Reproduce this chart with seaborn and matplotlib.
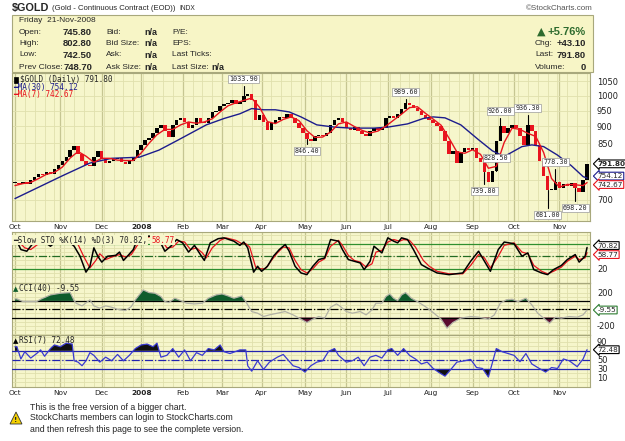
import numpy as np
import seaborn as sns
import matplotlib
matplotlib.use("Agg")
import matplotlib.pyplot as plt
from matplotlib.patches import Rectangle, Polygon
from matplotlib.ticker import FixedLocator, FuncFormatter, NullFormatter

sns.set_style("white")
plt.rcParams["font.family"] = ["DejaVu Sans"]

# x axis = trading day index: 0 = 1-Oct-2007 ... 290 = 21-Nov-2008
month_days = [0, 23, 44, 64, 85, 105, 125, 147, 168, 189, 211, 232, 253, 276]
month_names = ["Oct", "Nov", "Dec", "2008", "Feb", "Mar", "Apr", "May",
               "Jun", "Jul", "Aug", "Sep", "Oct", "Nov"]

# closing prices, every 2nd trading day
close_days = list(range(0, 291, 2))
closes = [741, 738, 745, 740, 748, 758, 765, 762, 770, 765, 778, 790,
          800, 812, 830, 842, 818, 800, 790, 785, 810, 828, 805,
          793, 800, 805, 808, 798, 792, 800, 812, 830,
          845, 858, 865, 880, 895, 905, 885, 868, 905, 920, 925,
          915, 895, 905, 925, 915, 910, 925, 945, 950, 965,
          972, 975, 985, 972, 980, 998, 1005, 985, 920, 935,
          915, 888, 912, 920, 930, 925, 940, 925, 910, 895, 880,
          862, 855, 870, 875, 870, 880, 905, 920, 925, 915,
          895, 890, 898, 885, 878, 872, 885, 895, 890, 895, 925,
          932, 928, 940, 955, 975, 968, 958, 950, 935, 925, 920,
          912, 900, 885, 855, 820, 828, 795, 825, 835, 830,
          835, 808, 798, 770, 745, 772, 855, 900, 880, 895, 905,
          895, 870, 845, 905, 885, 845, 800, 760, 725, 725, 745,
          730, 740, 735, 742, 730, 718, 748, 792]

ma30_days = [0, 24, 38, 49, 63, 73, 82, 97, 106, 114, 120, 126, 132, 139, 145, 153, 162, 170,
             182, 189, 199, 207, 212, 218, 226, 235, 242, 248, 257, 262, 268, 275, 282, 288, 290]
ma30 = [703, 760, 794, 807, 810, 830, 857, 905, 925, 940, 957, 953, 953, 946, 930, 905, 898, 895,
        895, 898, 908, 925, 930, 927, 905, 860, 828, 812, 840, 845, 840, 816, 787, 758, 754.12]

ma7_days = list(range(0, 289, 4)) + [290]
ma7 = [735, 740, 743, 753, 764, 769, 783, 808, 826, 813, 796, 807, 807, 802, 801, 801,
       822, 850, 875, 891, 891, 905, 914, 910, 914, 924, 946, 966, 976, 984, 992, 961,
       915, 909, 922, 930, 918, 887, 867, 868, 883, 908, 914, 900, 888, 880, 886, 901,
       920, 939, 960, 963, 942, 923, 904, 865, 825, 821, 831, 818, 780, 785, 852, 895,
       891, 879, 870, 823, 753, 731, 738, 737, 735, 742.67]

# labelled highs / lows
ext_days = [117, 149, 199, 246, 260, 244, 239, 274, 270, 285]
ext_prices = [1033.90, 846.40, 989.60, 926.00, 936.30, 828.50, 739.80, 778.30, 681.00, 698.20]
ext_high = [True, False, True, True, True, False, False, True, False, False]

sto_days = [0, 1, 3, 6, 10, 15, 18, 21, 25, 30, 33, 36, 38, 40, 42, 44, 47, 51, 53, 55,
            57, 60, 62, 65, 70, 73, 76, 79, 82, 85, 88, 91, 94, 96, 99, 103, 106, 111, 114, 116,
            118, 121, 123, 125, 128, 131, 134, 137, 139, 142, 145, 148, 151, 154, 157, 160, 164, 166, 169, 172,
            175, 177, 180, 182, 184, 186, 189, 192, 194, 196, 199, 202, 206, 209, 214, 220, 227, 231, 235, 238,
            241, 245, 248, 253, 257, 260, 263, 267, 270, 273, 277, 280, 284, 286, 289, 290]
sto_k = [86, 86, 66, 62, 86, 84, 74, 86, 94, 74, 50, 12, 26, 70, 50, 36, 50, 52, 60, 40,
         50, 66, 90, 98, 98, 90, 62, 74, 90, 82, 60, 76, 54, 40, 82, 92, 94, 86, 76, 84,
         70, 12, 26, 14, 26, 50, 66, 78, 62, 26, 10, 6, 26, 42, 46, 90, 86, 66, 42, 38,
         34, 18, 38, 74, 66, 58, 94, 86, 82, 94, 90, 66, 30, 22, 10, 6, 10, 38, 62, 38,
         14, 66, 84, 80, 50, 58, 18, 10, 6, 18, 28, 42, 54, 36, 50, 70.82]

stod_days = [0, 2, 5, 8, 12, 16, 20, 23, 27, 32, 35, 38, 41, 43, 46, 49, 53, 56, 59, 62,
             65, 70, 74, 77, 80, 83, 86, 89, 92, 95, 97, 100, 104, 107, 112, 115, 117, 119, 122, 124,
             127, 130, 133, 136, 139, 142, 145, 148, 151, 154, 157, 160, 164, 166, 169, 172, 175, 178, 181, 183,
             186, 189, 192, 195, 197, 200, 203, 207, 210, 214, 220, 227, 231, 235, 238, 241, 245, 248, 253, 257,
             260, 263, 267, 270, 273, 277, 280, 284, 286, 289, 290]
sto_d = [84, 84, 70, 66, 80, 84, 80, 86, 92, 78, 48, 22, 40, 56, 42, 48, 54, 48, 54, 76,
         94, 98, 92, 70, 72, 86, 84, 66, 70, 58, 46, 70, 88, 94, 88, 80, 80, 72, 24, 20,
         20, 40, 58, 72, 70, 40, 18, 10, 20, 36, 44, 74, 88, 76, 52, 40, 36, 24, 32, 60,
         64, 84, 90, 86, 90, 88, 72, 40, 26, 14, 8, 8, 28, 54, 46, 22, 50, 76, 82, 60,
         56, 28, 14, 8, 14, 24, 38, 50, 42, 46, 58.77]

cci_days = [0, 1, 4, 11, 13, 18, 23, 28, 30, 31, 34, 38, 40, 43, 46, 49, 52, 56, 59, 61,
            65, 68, 71, 74, 76, 78, 81, 84, 87, 91, 95, 98, 102, 105, 108, 111, 115, 117, 120, 123,
            126, 129, 133, 137, 141, 145, 148, 151, 154, 157, 160, 163, 165, 168, 171, 175, 178, 181, 183, 186,
            188, 190, 192, 194, 196, 198, 201, 204, 208, 212, 216, 219, 222, 226, 231, 235, 240, 243, 246, 249,
            252, 255, 259, 262, 265, 268, 271, 274, 277, 281, 285, 288, 290]
cci = [124, 124, 92, 92, 120, 172, 192, 200, 104, 72, 40, 112, 40, 12, 40, 24, 0, -16, 32, 112,
       232, 200, 192, 152, 92, 80, 132, 104, 72, 64, 72, 132, 172, 184, 160, 132, 160, 92, -28, -48,
       -88, -68, -48, -28, -68, -120, -160, -120, -88, -108, 24, 64, 32, -28, -48, -28, -68, -8, 72, 72,
       152, 184, 132, 104, 172, 200, 132, 92, 32, -40, -120, -228, -160, -108, -88, -96, -120, -68, 72, 112,
       120, 92, 132, 52, -48, -108, -168, -96, -108, -88, -96, -68, -9.55]

rsi_days = [0, 1, 3, 5, 8, 11, 13, 15, 18, 20, 23, 26, 29, 30, 32, 34, 36, 38, 40, 43,
            46, 49, 52, 55, 58, 61, 64, 67, 70, 72, 74, 77, 80, 83, 86, 89, 92, 95, 98, 101,
            104, 106, 109, 114, 117, 118, 120, 123, 126, 129, 133, 136, 138, 141, 144, 147, 150, 153, 156, 159,
            162, 164, 168, 171, 174, 177, 180, 183, 186, 189, 191, 194, 197, 200, 203, 206, 209, 212, 215, 218,
            221, 224, 228, 231, 234, 237, 240, 244, 247, 250, 253, 256, 259, 262, 265, 269, 272, 275, 278, 281,
            285, 288, 290]
rsi = [79, 79, 52, 68, 54, 64, 72, 58, 75, 83, 79, 87, 85, 48, 45, 37, 48, 66, 60, 45,
       56, 48, 62, 48, 60, 75, 83, 85, 79, 87, 56, 60, 75, 56, 72, 48, 66, 60, 75, 72,
       83, 68, 64, 72, 72, 37, 25, 48, 29, 45, 56, 62, 52, 37, 33, 23, 37, 45, 48, 69,
       75, 60, 45, 48, 56, 37, 56, 60, 54, 72, 75, 60, 75, 60, 52, 41, 45, 31, 22, 14,
       29, 45, 48, 51, 33, 31, 12, 75, 68, 64, 60, 46, 64, 41, 33, 23, 33, 31, 52, 48,
       35, 52, 72.48]

BG = "#f6f6cb"
INFO_BG = "#f7f5c6"
GRID_MIN = "#e0e0ad"
GRID_MAJ = "#c6c692"
EDGE = "#a8a87c"
RED = "#e8141e"
NAVY = "#1c1c8c"

fig = plt.figure(figsize=(6.25, 4.41), dpi=100)
fig.patch.set_facecolor("white")
r = fig.canvas.get_renderer()


def box(x0, y0, x1, y1):
    return [x0 / 625, 1 - y1 / 441, (x1 - x0) / 625, (y1 - y0) / 441]


def ftext(x, y, s, **kw):
    kw.setdefault("va", "center")
    return fig.text(x / 625, 1 - y / 441, s, **kw)


def after(t, gap, y, s, **kw):
    # place a text right after another one
    x = t.get_window_extent(r).x1 + gap
    return ftext(x, y, s, **kw)


def style_panel(ax, ylim, yticks, hgrid):
    ax.set_facecolor(BG)
    ax.set_xlim(-1.5, 291.5)
    ax.set_ylim(*ylim)
    ax.xaxis.set_major_locator(FixedLocator(month_days))
    ax.xaxis.set_minor_locator(FixedLocator(list(range(0, 291, 5))))
    ax.yaxis.set_major_locator(FixedLocator(yticks))
    ax.yaxis.set_minor_locator(FixedLocator(hgrid))
    ax.yaxis.set_minor_formatter(NullFormatter())
    ax.yaxis.set_major_formatter(FuncFormatter(lambda v, p: f"{v:.0f}"))
    ax.grid(which="minor", color=GRID_MIN, lw=0.6, zorder=0)
    ax.grid(which="major", axis="y", color=GRID_MIN, lw=0.6, zorder=0)
    ax.grid(which="major", axis="x", color=GRID_MAJ, lw=0.9, zorder=0)
    ax.set_axisbelow(True)
    ax.yaxis.tick_right()
    ax.tick_params(which="both", length=0)
    ax.tick_params(axis="y", labelsize=6, pad=5, colors="#222222")
    ax.tick_params(axis="x", labelbottom=False)
    for s in ax.spines.values():
        s.set_color(EDGE)
        s.set_linewidth(0.8)


def tag(ax, v, text, ec, bold=False, dy=0):
    ax.annotate(text, xy=(1.013, v), xycoords=ax.get_yaxis_transform(),
                xytext=(0, dy), textcoords="offset pixels", ha="left", va="center",
                fontsize=5.2, fontweight="bold" if bold else "normal", zorder=10,
                annotation_clip=False,
                bbox=dict(boxstyle="larrow,pad=0.12", fc="white", ec=ec, lw=0.8))


# ---------------- header ----------------
t = ftext(12, 8, "$GOLD", fontsize=7.8, fontweight="bold", family="Liberation Sans")
t = after(t, 3, 8, "(Gold - Continuous Contract (EOD))", fontsize=5.6, family="Liberation Sans")
after(t, 3, 8, "INDX", fontsize=4.8, family="Liberation Sans")
ftext(593, 8, "\u00a9StockCharts.com", fontsize=5.8, ha="right", color="#555555", family="Liberation Sans")

fig.add_artist(Rectangle((12 / 625, 1 - 72 / 441), 581 / 625, 57 / 441, transform=fig.transFigure,
                         fc=INFO_BG, ec=EDGE, lw=0.8, zorder=0))
ftext(19, 21, "Friday  21-Nov-2008", fontsize=6, family="Liberation Sans")
row_y = [32.7, 43.3, 55, 67.7]
info_c1 = ["Open:", "High:", "Low:", "Prev Close:"]
info_v1 = ["745.80", "802.80", "742.50", "748.70"]
info_c2 = ["Bid:", "Bid Size:", "Ask:", "Ask Size:"]
info_c3 = ["P/E:", "EPS:", "Last Ticks:", "Last Size:"]
for y, a, v, b, c in zip(row_y, info_c1, info_v1, info_c2, info_c3):
    ftext(19, y, a, fontsize=6, family="Liberation Sans")
    ftext(92, y, v, fontsize=6.8, fontweight="bold", ha="right", family="Liberation Sans")
    ftext(106, y, b, fontsize=6, family="Liberation Sans")
    ftext(144, y, "n/a", fontsize=6.5, fontweight="bold", family="Liberation Sans")
    ftext(172, y, c, fontsize=6, family="Liberation Sans")
ftext(211, 67.7, "n/a", fontsize=6.5, fontweight="bold", family="Liberation Sans")

ftext(541, 32, "\u25b2", fontsize=8, color="#2e6b2e", ha="center")
ftext(586, 32, "+5.76%", fontsize=8, fontweight="bold", color="#2e6b2e", ha="right", family="Liberation Sans")
for y, a, v in zip(row_y[1:], ["Chg:", "Last:", "Volume:"], ["+43.10", "791.80", "0"]):
    ftext(535, y, a, fontsize=6, family="Liberation Sans")
    ftext(586, y, v, fontsize=6.8, fontweight="bold", ha="right", family="Liberation Sans")

# ---------------- price panel ----------------
ax = fig.add_axes(box(12, 73, 590, 221))
ax.set_yscale("log")
# 750 / 800 are hidden behind the value tags in the original
style_panel(ax, (651, 1081), [700, 850, 900, 950, 1000, 1050],
            [650, 700, 750, 800, 850, 900, 950, 1000, 1050])

c = np.array(closes, dtype=float)
o = np.r_[c[0], c[:-1]]
lo = np.minimum(o, c)
hi = np.maximum(o, c)
col = np.where(c >= o, "black", RED)
ax.bar(close_days, np.maximum(hi - lo, 2.0), bottom=lo, width=1.75, color=col, lw=0, zorder=3)

sns.lineplot(x=ma30_days, y=ma30, color=NAVY, lw=1.0, ax=ax, zorder=4)
sns.lineplot(x=ma7_days, y=ma7, color=RED, lw=1.0, ax=ax, zorder=4)

cd_arr = np.array(close_days)
for d, p, up in zip(ext_days, ext_prices, ext_high):
    i = int(np.argmin(np.abs(cd_arr - d)))
    edge = hi[i] if up else lo[i]
    ax.plot([close_days[i], close_days[i]], [edge, p], color="black", lw=0.8, zorder=3)
    ax.annotate(f"{p:.2f}", xy=(close_days[i], p), xytext=(0, 4 if up else -4),
                textcoords="offset pixels", ha="center", va="bottom" if up else "top",
                fontsize=4.9, family="DejaVu Sans Mono", zorder=6,
                bbox=dict(boxstyle="square,pad=0.15", fc="white", ec="#9a9a9a", lw=0.5))

tag(ax, 791.80, "791.80", "black", bold=True)
tag(ax, 754.12, "754.12", NAVY, dy=2)
tag(ax, 742.67, "742.67", RED, dy=-2)
ax.set_xlabel("")
ax.set_ylabel("")

fig.add_artist(Rectangle((14 / 625, 1 - 83 / 441), 4 / 625, 6 / 441, transform=fig.transFigure,
                         fc="black", ec="black", lw=0.5))
ftext(20, 79.5, "$GOLD (Daily) 791.80", fontsize=5.6, family="DejaVu Sans Mono")
ftext(13, 87.2, "\u2501MA(30) 754.12", fontsize=5.6, family="DejaVu Sans Mono", color=NAVY)
ftext(13, 94.8, "\u2501MA(7) 742.67", fontsize=5.6, family="DejaVu Sans Mono", color=RED)

# ---------------- slow stochastics ----------------
ax2 = fig.add_axes(box(12, 232, 590, 283))
style_panel(ax2, (-14, 108), [20], list(range(0, 101, 10)))
ax2.axhline(80, color="#2f8f2f", lw=0.9, zorder=2)
ax2.axhline(20, color="#2f8f2f", lw=0.9, zorder=2)
ax2.axhline(50, color="#236b23", lw=0.9, ls="-.", zorder=2)
sns.lineplot(x=stod_days, y=sto_d, color=RED, lw=0.9, ax=ax2, zorder=3)
sns.lineplot(x=sto_days, y=sto_k, color="black", lw=1.1, ax=ax2, zorder=4)
tag(ax2, 70.82, "70.82", "black", dy=2)
tag(ax2, 58.77, "58.77", RED, dy=-2)
ax2.set_xlabel("")
ax2.set_ylabel("")

# ---------------- CCI ----------------
ax3 = fig.add_axes(box(12, 283, 590, 335))
style_panel(ax3, (-310, 315), [-200, 200], list(range(-300, 301, 50)))
cdays = np.array(cci_days, dtype=float)
cvals = np.array(cci, dtype=float)
ax3.fill_between(cdays, cvals, 100, where=cvals >= 100, interpolate=True, color="#0e5c2c", lw=0, zorder=2)
ax3.fill_between(cdays, cvals, -100, where=cvals <= -100, interpolate=True, color="#5a0b2e", lw=0, zorder=2)
ax3.axhline(100, color="black", lw=0.9, zorder=3)
ax3.axhline(-100, color="black", lw=0.9, zorder=3)
ax3.axhline(0, color="black", lw=0.9, ls="-.", zorder=3)
sns.lineplot(x=cci_days, y=cci, color="#b2b2a6", lw=0.9, ax=ax3, zorder=4)
tag(ax3, -9.55, "-9.55", "#2e7d32")
ax3.set_xlabel("")
ax3.set_ylabel("")

# ---------------- RSI ----------------
ax4 = fig.add_axes(box(12, 335, 590, 387))
style_panel(ax4, (-10, 105), [10, 30, 50, 90], list(range(0, 101, 10)))
rdays = np.array(rsi_days, dtype=float)
rvals = np.array(rsi, dtype=float)
ax4.fill_between(rdays, rvals, 70, where=rvals >= 70, interpolate=True, color="#111111", lw=0, zorder=2)
ax4.fill_between(rdays, rvals, 30, where=rvals <= 30, interpolate=True, color="#111111", lw=0, zorder=2)
ax4.axhline(70, color="#2323b0", lw=0.9, zorder=3)
ax4.axhline(30, color="#2323b0", lw=0.9, zorder=3)
ax4.axhline(50, color="#2323b0", lw=0.9, ls="-.", zorder=3)
sns.lineplot(x=rsi_days, y=rsi, color="#3a3ad2", lw=0.9, ax=ax4, zorder=4)
tag(ax4, 72.48, "72.48", "black")
ax4.set_xlabel("")
ax4.set_ylabel("")

# month labels under the price panel and under RSI
for a in (ax, ax4):
    a.tick_params(axis="x", labelbottom=True, labelsize=5.3, pad=2.5, colors="#222222")
    a.set_xticks(month_days)
    a.set_xticklabels(month_names)
    a.get_xticklabels()[3].set_fontweight("bold")

# panel legends
leg_bbox = dict(boxstyle="square,pad=0.1", fc=BG, ec="none")
t1 = ftext(13, 240, "\u2501Slow STO %K(14) %D(3) 70.82,", fontsize=5.6,
           family="DejaVu Sans Mono", bbox=leg_bbox)
after(t1, 4, 240, "58.77", fontsize=5.6, family="DejaVu Sans Mono", color=RED, bbox=leg_bbox)
ftext(13, 289, "\u25b2", fontsize=5, color="#0e5c2c")
ftext(19, 289, "CCI(40) -9.55", fontsize=5.6, family="DejaVu Sans Mono")
ftext(13, 341, "\u25b2", fontsize=5, color="black")
ftext(19, 341, "RSI(7) 72.48", fontsize=5.6, family="DejaVu Sans Mono")

# ---------------- footer ----------------
tri = [(10 / 625, 1 - 424 / 441), (16 / 625, 1 - 412 / 441), (22 / 625, 1 - 424 / 441)]
fig.add_artist(Polygon(tri, closed=True, transform=fig.transFigure, fc="#f4d000", ec="#333333", lw=0.6))
ftext(16, 420, "!", fontsize=5, fontweight="bold", ha="center")
footer = ["This is the free version of a bigger chart.",
          "StockCharts members can login to StockCharts.com",
          "and then refresh this page to see the complete version."]
for y, s in zip([407, 418, 429], footer):
    ftext(30, y, s, fontsize=6.3, family="Liberation Sans")

fig.savefig("out.png", dpi=100, facecolor="white")
